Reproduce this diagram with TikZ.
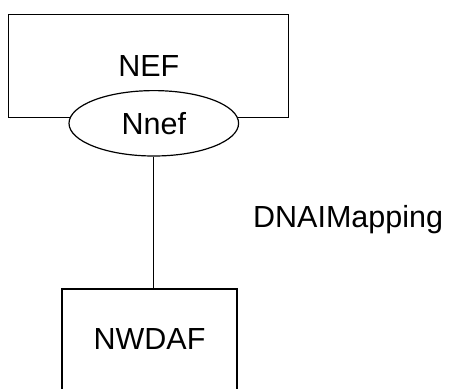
\documentclass[tikz,border=0pt]{standalone}
\usepackage{fontspec}
\setmainfont{Liberation Sans}
\usetikzlibrary{shapes.geometric}
\begin{document}
\begin{tikzpicture}[x=1pt,y=1pt,
  every node/.style={font=\fontsize{30.5}{36}\selectfont, inner sep=0pt},
  nfbox/.style={draw, line width=1.2pt, rectangle},
  svc/.style={draw, line width=1.2pt, ellipse, fill=white},
  link/.style={line width=1.2pt}]
\useasboundingbox (0,0) rectangle (454,-388);
\node[nfbox, minimum width=280pt, minimum height=103pt] (nef) at (148.8,-65.6) {NEF};
\node[svc, minimum width=169.6pt, minimum height=65.4pt] (nnef) at (153.8,-123.3) {Nnef};
\node[nfbox, minimum width=175pt, minimum height=101pt] (nwdaf) at (149.5,-339.5) {NWDAF};
\draw[link] (nnef.south) -- (nnef.south |- nwdaf.north);
\node[anchor=base west] (lbl) at (253,-227) {DNAIMapping};
\end{tikzpicture}
\end{document}
